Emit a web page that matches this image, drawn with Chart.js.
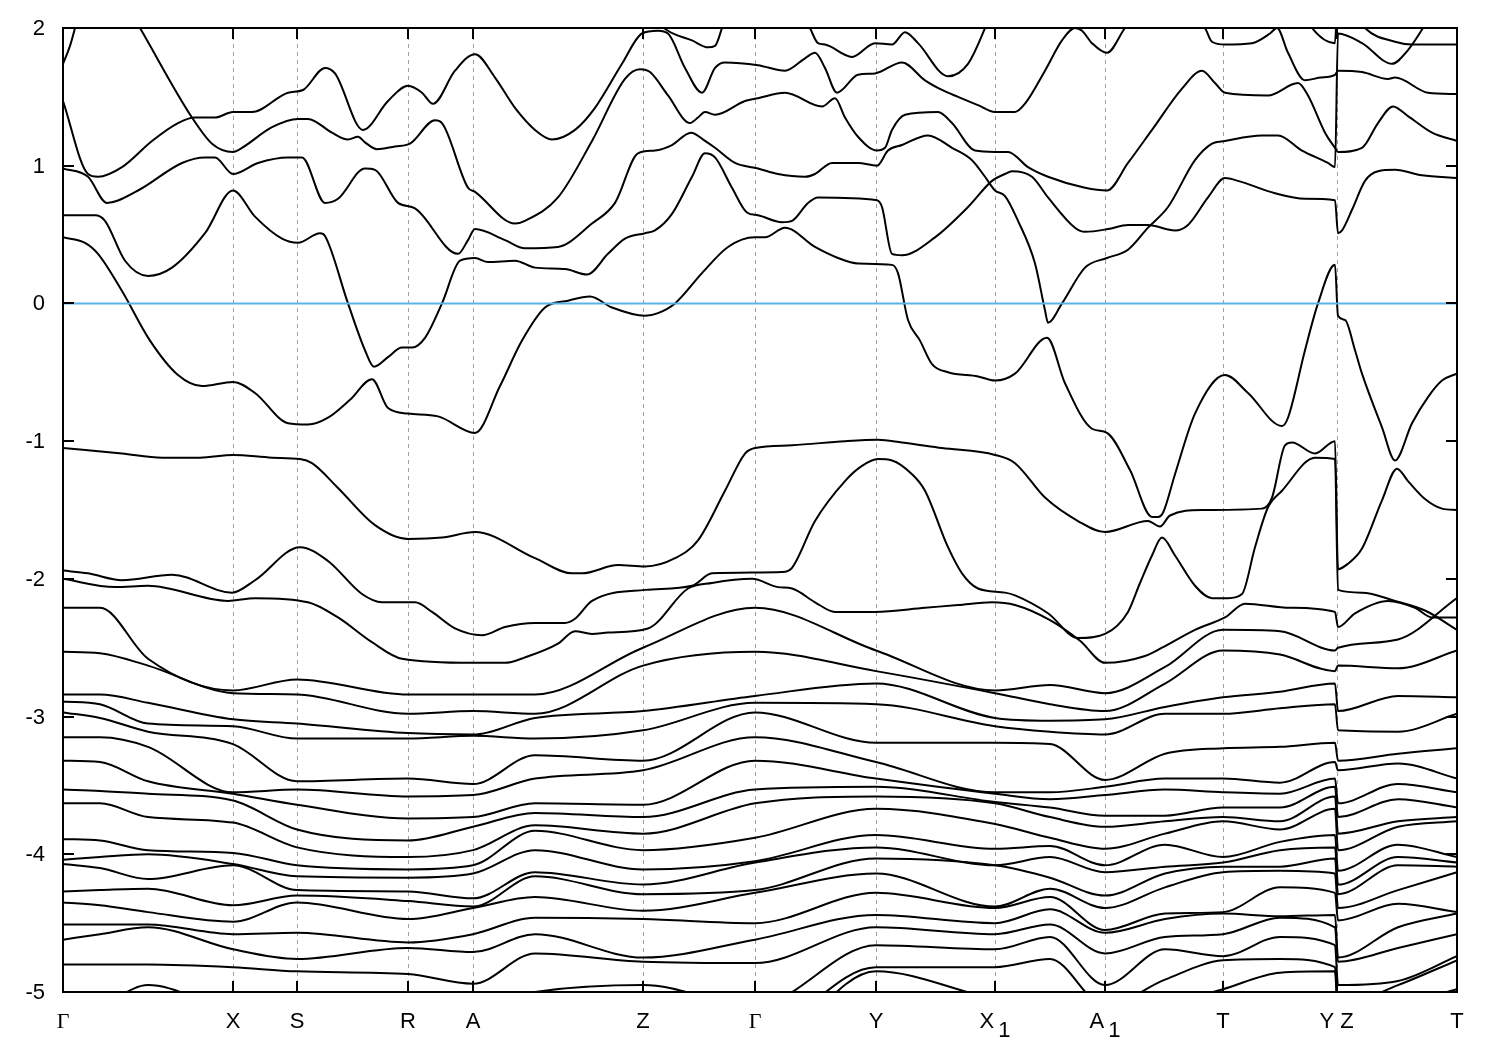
<!DOCTYPE html>
<html>
<head>
<meta charset="utf-8">
<script src="https://cdn.jsdelivr.net/npm/chart.js@4.4.0/dist/chart.umd.min.js"></script>
<style>
  html, body { margin: 0; padding: 0; background: #fff; }
  canvas { display: block; }
</style>
</head>
<body>
<canvas id="bands" width="1500" height="1050"></canvas>
<script>
// k-path positions of the high symmetry points (path units) and their labels
const kPoints = [63, 233, 297, 408, 473, 643, 755, 876, 995, 1105, 1223, 1336.5, 1457];
const kLabels = ["Γ", "X", "S", "R", "A", "Z", "Γ", "Y", "X_1", "A_1", "T", "Y Z", "T"];
const energyTicks = [2, 1, 0, -1, -2, -3, -4, -5];
const fermiLine = [[63, 0], [1457, 0]];

// upper bands, traced as [k, E] pairs
const bandA = [[63,1.74],[70,1.87],[75,2.0],[82,2.2]];
const bandB = [[63,2.95],[140,2.0],[192,1.35],[212,1.16],[233,1.10],[242,1.13],[272,1.28],[298,1.34],[308,1.34],[332,1.24],[348,1.19],[358,1.21],[365,1.17],[377,1.12],[395,1.14],[410,1.16],[435,1.33],[442,1.31],[468,0.84],[475,0.81],[515,0.58],[525,0.60],[558,0.77],[592,1.18],[625,1.63],[640,1.70],[650,1.68],[668,1.51],[690,1.31],[698,1.35],[705,1.39],[715,1.37],[745,1.47],[758,1.49],[785,1.53],[822,1.43],[835,1.49],[845,1.35],[858,1.21],[877,1.11],[885,1.13],[892,1.26],[905,1.37],[938,1.39],[952,1.31],[975,1.11],[995,1.10],[1008,1.10],[1028,0.99],[1048,0.92],[1085,0.84],[1107,0.82],[1128,1.02],[1152,1.26],[1182,1.56],[1202,1.69],[1215,1.60],[1225,1.53],[1268,1.51],[1298,1.60],[1308,1.51],[1325,1.24],[1335,1.13],[1338,1.10],[1362,1.13],[1378,1.31],[1393,1.43],[1408,1.36],[1432,1.24],[1457,1.18]];
const bandC = [[63,1.47],[88,0.94],[98,0.92],[122,0.99],[152,1.18],[178,1.31],[195,1.35],[215,1.35],[233,1.39],[252,1.39],[288,1.53],[303,1.55],[325,1.71],[335,1.67],[363,1.26],[388,1.47],[408,1.58],[422,1.53],[433,1.45],[455,1.69],[475,1.81],[495,1.64],[515,1.42],[535,1.26],[552,1.19],[575,1.26],[595,1.42],[622,1.74],[642,1.96],[658,1.98],[668,1.96],[685,1.71],[702,1.53],[715,1.71],[725,1.75],[758,1.73],[785,1.69],[805,1.78],[815,1.82],[825,1.71],[837,1.53],[858,1.66],[875,1.67],[902,1.75],[925,1.62],[942,1.55],[958,1.50],[978,1.44],[995,1.39],[1015,1.39],[1025,1.45],[1045,1.69],[1062,1.91],[1075,2.0],[1082,1.98],[1092,1.89],[1107,1.82],[1125,2.0],[1160,2.3],[1250,2.45],[1335,2.3],[1338,2.3],[1365,2.0],[1395,1.90],[1412,1.88],[1435,1.88],[1457,1.88]];
const bandD = [[63,0.98],[88,0.92],[107,0.73],[138,0.82],[182,1.02],[205,1.06],[215,1.06],[233,0.94],[258,1.02],[288,1.06],[302,1.06],[325,0.73],[338,0.76],[365,0.98],[375,0.97],[398,0.73],[415,0.69],[458,0.36],[468,0.46],[475,0.54],[505,0.46],[525,0.40],[558,0.41],[592,0.58],[615,0.73],[638,1.09],[655,1.11],[672,1.15],[691,1.24],[705,1.18],[715,1.13],[735,1.02],[758,0.98],[778,0.94],[805,0.92],[815,0.94],[832,1.02],[842,1.02],[858,1.02],[877,1.0],[888,1.11],[902,1.15],[928,1.22],[952,1.13],[972,1.04],[985,0.92],[995,0.82],[1005,0.78],[1018,0.60],[1035,0.29],[1045,-0.05],[1048,-0.14],[1062,0.0],[1085,0.26],[1107,0.33],[1128,0.39],[1148,0.55],[1168,0.70],[1195,1.04],[1212,1.16],[1225,1.18],[1262,1.22],[1278,1.22],[1302,1.11],[1328,1.02],[1335,0.99],[1338,1.96],[1362,1.89],[1392,1.74],[1408,1.84],[1423,2.0],[1440,2.2],[1457,2.35]];
const bandE = [[63,0.64],[95,0.64],[105,0.60],[125,0.31],[148,0.20],[172,0.26],[205,0.51],[233,0.82],[255,0.63],[282,0.47],[298,0.44],[320,0.51],[325,0.49],[348,0.0],[365,-0.34],[374,-0.46],[388,-0.39],[402,-0.32],[412,-0.32],[425,-0.25],[442,0.0],[460,0.31],[475,0.33],[488,0.30],[515,0.31],[535,0.26],[565,0.25],[587,0.21],[608,0.36],[625,0.47],[645,0.51],[655,0.53],[672,0.65],[692,0.92],[705,1.09],[715,1.06],[732,0.84],[747,0.66],[758,0.64],[782,0.59],[792,0.60],[808,0.73],[818,0.77],[877,0.75],[882,0.70],[892,0.36],[902,0.35],[935,0.48],[968,0.70],[992,0.89],[1005,0.94],[1012,0.96],[1032,0.92],[1048,0.77],[1075,0.55],[1085,0.52],[1108,0.54],[1128,0.57],[1148,0.57],[1175,0.53],[1188,0.57],[1208,0.77],[1225,0.91],[1238,0.89],[1275,0.80],[1305,0.76],[1335,0.75],[1338,0.51],[1342,0.53],[1352,0.68],[1365,0.89],[1378,0.96],[1395,0.97],[1422,0.93],[1457,0.91]];
const bandF = [[63,0.48],[85,0.44],[98,0.36],[122,0.09],[150,-0.27],[178,-0.52],[202,-0.60],[233,-0.57],[255,-0.65],[288,-0.87],[308,-0.88],[328,-0.83],[350,-0.70],[372,-0.55],[388,-0.76],[408,-0.80],[438,-0.82],[475,-0.94],[500,-0.60],[522,-0.27],[545,-0.03],[568,0.02],[590,0.05],[612,-0.03],[645,-0.09],[658,-0.07],[675,0.0],[702,0.22],[728,0.41],[755,0.48],[765,0.48],[785,0.55],[815,0.41],[838,0.33],[858,0.29],[892,0.28],[898,0.22],[908,-0.12],[920,-0.27],[932,-0.44],[948,-0.50],[978,-0.53],[995,-0.56],[1015,-0.51],[1047,-0.25],[1065,-0.58],[1092,-0.91],[1107,-0.94],[1130,-1.21],[1152,-1.55],[1158,-1.55],[1163,-1.52],[1175,-1.24],[1195,-0.80],[1225,-0.52],[1248,-0.65],[1282,-0.89],[1288,-0.83],[1305,-0.34],[1318,0.0],[1335,0.28],[1338,-0.09],[1345,-0.12],[1355,-0.34],[1362,-0.51],[1382,-0.90],[1395,-1.14],[1412,-0.87],[1428,-0.68],[1442,-0.56],[1457,-0.51]];
const bandG = [[63,-1.05],[122,-1.09],[162,-1.12],[200,-1.12],[233,-1.10],[272,-1.12],[300,-1.13],[312,-1.16],[338,-1.34],[375,-1.61],[408,-1.71],[442,-1.70],[475,-1.66],[535,-1.85],[572,-1.96],[582,-1.96],[618,-1.90],[645,-1.91],[675,-1.85],[698,-1.72],[725,-1.36],[745,-1.09],[755,-1.05],[792,-1.03],[845,-1.0],[878,-0.99],[902,-1.01],[942,-1.05],[995,-1.10],[1015,-1.16],[1045,-1.41],[1078,-1.58],[1105,-1.66],[1148,-1.58],[1160,-1.62],[1170,-1.54],[1202,-1.50],[1262,-1.49],[1272,-1.41],[1285,-1.03],[1292,-1.01],[1315,-1.09],[1335,-1.0],[1338,-1.93],[1348,-1.89],[1362,-1.78],[1382,-1.43],[1397,-1.20],[1408,-1.29],[1425,-1.42],[1442,-1.49],[1457,-1.50]];
const bandH = [[63,-1.94],[88,-1.96],[122,-2.01],[172,-1.97],[232,-2.10],[255,-2.01],[300,-1.77],[328,-1.87],[362,-2.11],[382,-2.17],[415,-2.17],[432,-2.24],[455,-2.36],[482,-2.41],[505,-2.35],[535,-2.32],[565,-2.32],[575,-2.29],[592,-2.16],[645,-2.08],[692,-2.05],[712,-1.96],[782,-1.95],[792,-1.92],[815,-1.58],[845,-1.29],[862,-1.18],[878,-1.13],[892,-1.14],[912,-1.24],[925,-1.36],[948,-1.77],[962,-1.96],[978,-2.07],[1005,-2.10],[1015,-2.12],[1048,-2.25],[1078,-2.43],[1105,-2.40],[1128,-2.24],[1140,-2.03],[1152,-1.83],[1162,-1.70],[1175,-1.83],[1195,-2.05],[1212,-2.14],[1228,-2.14],[1242,-2.11],[1255,-1.77],[1268,-1.48],[1282,-1.36],[1315,-1.12],[1335,-1.13],[1338,-2.08],[1362,-2.10],[1395,-2.16],[1425,-2.23],[1457,-2.37]];
const bandI = [[63,-2.0],[115,-2.06],[148,-2.05],[228,-2.16],[255,-2.14],[308,-2.17],[338,-2.28],[372,-2.46],[402,-2.58],[472,-2.61],[505,-2.61],[525,-2.57],[558,-2.47],[575,-2.38],[592,-2.40],[608,-2.39],[648,-2.36],[688,-2.07],[712,-2.03],[752,-2.0],[778,-2.06],[792,-2.07],[815,-2.17],[835,-2.24],[875,-2.24],[925,-2.21],[958,-2.19],[992,-2.17],[1015,-2.19],[1050,-2.30],[1080,-2.45],[1105,-2.61],[1145,-2.56],[1162,-2.50],[1195,-2.37],[1225,-2.28],[1245,-2.18],[1290,-2.21],[1335,-2.24],[1338,-2.35],[1355,-2.25],[1388,-2.16],[1415,-2.21],[1432,-2.28],[1457,-2.28]];
const bandTopZ = [[630,2.3],[650,2.1],[668,1.98],[692,1.91],[708,1.86],[715,1.87],[722,2.0],[735,2.3]];
const bandTopY = [[790,2.3],[810,2.0],[818,1.89],[825,1.88],[852,1.79],[875,1.89],[892,1.88],[905,1.97],[918,1.89],[948,1.65],[968,1.74],[985,2.0],[1000,2.3]];
const bandTopT = [[1150,2.4],[1205,2.0],[1212,1.90],[1225,1.88],[1252,1.89],[1270,1.96],[1277,2.0],[1288,1.82],[1305,1.62],[1320,1.64],[1335,1.66],[1338,1.69],[1362,1.68],[1388,1.63],[1395,1.64],[1428,1.53],[1457,1.52]];
const bandTopYZ = [[1290,2.3],[1312,2.0],[1335,1.89],[1338,2.4],[1350,2.6]];

// lower (dense) bands: energies read at these k columns, listed from top to bottom
const lowK = [63, 100, 148, 233, 297, 408, 473, 535, 643, 755, 876, 995, 1050, 1105, 1165, 1223, 1280, 1335, 1338, 1398, 1457];
const low063 = [-2.21,-2.53,-2.84,-2.89,-2.97,-3.15,-3.32,-3.53,-3.63,-3.89,-4.04,-4.07,-4.27,-4.35,-4.51,-4.62,-4.80,-5.15,-5.3,-5.45];
const low100 = [-2.21,-2.54,-2.84,-2.91,-3.01,-3.15,-3.33,-3.54,-3.63,-3.90,-4.02,-4.10,-4.26,-4.37,-4.51,-4.58,-4.80,-5.1,-5.3,-5.45];
const low148 = [-2.58,-2.63,-2.90,-3.05,-3.11,-3.22,-3.47,-3.56,-3.73,-3.97,-4.00,-4.18,-4.25,-4.42,-4.51,-4.53,-4.80,-4.95,-5.3,-5.45];
const low233 = [-2.81,-2.83,-3.02,-3.07,-3.20,-3.55,-3.56,-3.61,-3.77,-3.99,-4.07,-4.08,-4.37,-4.49,-4.58,-4.69,-4.82,-5.1,-5.3,-5.45];
const low297 = [-2.73,-2.84,-3.05,-3.16,-3.47,-3.53,-3.64,-3.82,-3.95,-4.08,-4.16,-4.26,-4.30,-4.35,-4.57,-4.76,-4.85,-5.1,-5.3,-5.45];
const low408 = [-2.84,-2.98,-3.12,-3.16,-3.45,-3.58,-3.74,-3.90,-4.02,-4.11,-4.17,-4.27,-4.34,-4.47,-4.64,-4.68,-4.87,-5.1,-5.3,-5.45];
const low473 = [-2.84,-2.96,-3.13,-3.14,-3.49,-3.57,-3.73,-3.80,-3.97,-4.08,-4.14,-4.32,-4.38,-4.39,-4.58,-4.71,-4.94,-5.1,-5.3,-5.45];
const low535 = [-2.84,-2.98,-3.01,-3.16,-3.28,-3.45,-3.63,-3.70,-3.79,-3.83,-3.97,-4.13,-4.16,-4.31,-4.46,-4.58,-4.72,-5.0,-5.3,-5.45];
const low643 = [-2.50,-2.63,-2.96,-3.10,-3.32,-3.39,-3.64,-3.73,-3.85,-3.97,-4.11,-4.22,-4.29,-4.41,-4.47,-4.75,-4.78,-4.95,-5.3,-5.45];
const low755 = [-2.21,-2.53,-2.85,-2.90,-2.97,-3.15,-3.32,-3.53,-3.63,-3.88,-4.05,-4.06,-4.26,-4.28,-4.50,-4.62,-4.79,-5.1,-5.3,-5.45];
const low876 = [-2.52,-2.67,-2.76,-2.91,-3.19,-3.33,-3.45,-3.51,-3.58,-3.67,-3.86,-3.95,-4.03,-4.14,-4.28,-4.44,-4.53,-4.66,-4.82,-4.85];
const low995 = [-2.81,-2.83,-3.01,-3.07,-3.19,-3.55,-3.56,-3.62,-3.63,-3.78,-3.96,-4.08,-4.08,-4.38,-4.39,-4.50,-4.58,-4.69,-4.82,-5.05];
const low1050 = [-2.77,-2.91,-3.03,-3.11,-3.20,-3.55,-3.60,-3.66,-3.73,-3.88,-3.94,-4.02,-4.17,-4.25,-4.31,-4.40,-4.51,-4.60,-4.76,-5.1];
const low1105 = [-2.83,-2.96,-3.02,-3.13,-3.46,-3.51,-3.57,-3.72,-3.80,-3.96,-4.08,-4.13,-4.30,-4.39,-4.55,-4.57,-4.72,-4.95,-5.1,-5.2];
const low1165 = [-2.64,-2.76,-2.93,-2.98,-3.27,-3.45,-3.53,-3.72,-3.76,-3.85,-3.93,-4.09,-4.14,-4.24,-4.43,-4.47,-4.60,-4.69,-4.91,-5.1];
const low1223 = [-2.37,-2.52,-2.86,-2.98,-3.23,-3.45,-3.55,-3.66,-3.73,-3.76,-4.02,-4.06,-4.09,-4.13,-4.42,-4.43,-4.58,-4.74,-4.77,-4.98];
const low1280 = [-2.38,-2.55,-2.82,-2.94,-3.22,-3.48,-3.56,-3.66,-3.76,-3.82,-3.91,-3.97,-4.09,-4.12,-4.24,-4.45,-4.46,-4.60,-4.76,-4.86];
const low1335 = [-2.52,-2.67,-2.76,-2.91,-3.19,-3.33,-3.45,-3.51,-3.58,-3.67,-3.86,-3.95,-4.03,-4.14,-4.28,-4.44,-4.53,-4.66,-4.82,-4.85];
const low1338 = [-2.50,-2.63,-2.96,-3.10,-3.32,-3.39,-3.63,-3.73,-3.85,-3.97,-4.12,-4.22,-4.29,-4.39,-4.48,-4.75,-4.78,-4.95,-5.1,-5.2];
const low1398 = [-2.44,-2.65,-2.85,-3.11,-3.27,-3.34,-3.49,-3.60,-3.76,-3.80,-3.93,-4.02,-4.08,-4.26,-4.36,-4.53,-4.68,-4.92,-4.95,-5.1];
const low1457 = [-2.14,-2.52,-2.86,-2.98,-3.23,-3.45,-3.55,-3.66,-3.73,-3.76,-4.02,-4.06,-4.09,-4.13,-4.42,-4.43,-4.58,-4.74,-4.77,-4.98];

const lowColumns = [low063, low100, low148, low233, low297, low408, low473, low535, low643, low755, low876,
  low995, low1050, low1105, low1165, low1223, low1280, low1335, low1338, low1398, low1457];

const upperBands = [bandA, bandB, bandC, bandD, bandE, bandF, bandG, bandH, bandI,
  bandTopZ, bandTopY, bandTopT, bandTopYZ];

function bandSet(points) {
  return {
    data: points.map(p => ({ x: p[0], y: p[1] })),
    borderColor: "#000",
    borderWidth: 2,
    pointRadius: 0,
    fill: false,
    cubicInterpolationMode: "monotone",
    clip: 0,
    order: 1,
  };
}

const datasets = upperBands.map(bandSet);
for (let i = 0; i < low063.length; i++) {
  datasets.push(bandSet(lowK.map((k, j) => [k, lowColumns[j][i]])));
}
// zero (Fermi) level on top
datasets.push({
  data: fermiLine.map(p => ({ x: p[0], y: p[1] })),
  borderColor: "#56b4e9",
  borderWidth: 2,
  pointRadius: 0,
  clip: 0,
  order: 0,
});

const FONT = '22px "Liberation Sans", Arial, sans-serif';
const GAMMA_FONT = '22px "Liberation Serif", serif';

const axesPlugin = {
  id: "gnuplotAxes",
  beforeDatasetsDraw(chart) {
    const { ctx, chartArea: a, scales } = chart;
    ctx.save();
    ctx.strokeStyle = "#a0a0a0";
    ctx.lineWidth = 1;
    ctx.setLineDash([4, 4]);
    kPoints.slice(1, -1).forEach(k => {
      const px = Math.round(scales.x.getPixelForValue(k)) + 0.5;
      ctx.beginPath();
      ctx.moveTo(px, a.top);
      ctx.lineTo(px, a.bottom);
      ctx.stroke();
    });
    ctx.restore();
  },
  afterDatasetsDraw(chart) {
    const { ctx, chartArea: a, scales } = chart;
    ctx.save();
    ctx.strokeStyle = "#000";
    ctx.lineWidth = 2;
    ctx.strokeRect(a.left, a.top, a.right - a.left, a.bottom - a.top);

    // inward ticks
    ctx.beginPath();
    energyTicks.forEach(v => {
      const py = Math.round(scales.y.getPixelForValue(v));
      ctx.moveTo(a.left, py); ctx.lineTo(a.left + 11, py);
      ctx.moveTo(a.right, py); ctx.lineTo(a.right - 11, py);
    });
    kPoints.slice(1, -1).forEach(k => {
      const px = Math.round(scales.x.getPixelForValue(k));
      ctx.moveTo(px, a.bottom); ctx.lineTo(px, a.bottom - 11);
      ctx.moveTo(px, a.top); ctx.lineTo(px, a.top + 11);
    });
    ctx.stroke();

    // energy labels
    ctx.fillStyle = "#000";
    ctx.font = FONT;
    ctx.textAlign = "right";
    ctx.textBaseline = "middle";
    energyTicks.forEach(v => {
      ctx.fillText(String(v), a.left - 18, scales.y.getPixelForValue(v) + 1);
    });

    // k-point labels, "_" marks a subscript
    ctx.textAlign = "left";
    ctx.textBaseline = "alphabetic";
    kLabels.forEach((lab, i) => {
      const px = scales.x.getPixelForValue(kPoints[i]);
      const [base, sub] = lab.split("_");
      const baseFont = base === "Γ" ? GAMMA_FONT : FONT;
      ctx.font = baseFont;
      const wb = ctx.measureText(base).width;
      let ws = 0;
      if (sub) { ctx.font = FONT; ws = ctx.measureText(sub).width + 4; }
      const x0 = px - (wb + ws) / 2;
      ctx.font = baseFont;
      ctx.fillText(base, x0, a.bottom + 36);
      if (sub) { ctx.font = FONT; ctx.fillText(sub, x0 + wb + 4, a.bottom + 45); }
    });
    ctx.restore();
  },
};

new Chart(document.getElementById("bands"), {
  type: "line",
  data: { datasets },
  options: {
    responsive: false,
    animation: false,
    devicePixelRatio: 1,
    layout: { padding: { left: 63, right: 43, top: 28, bottom: 58 } },
    plugins: { legend: { display: false }, tooltip: { enabled: false } },
    scales: {
      x: { type: "linear", min: 63, max: 1457, display: false },
      y: { type: "linear", min: -5, max: 2, display: false },
    },
  },
  plugins: [axesPlugin],
});
</script>
</body>
</html>
